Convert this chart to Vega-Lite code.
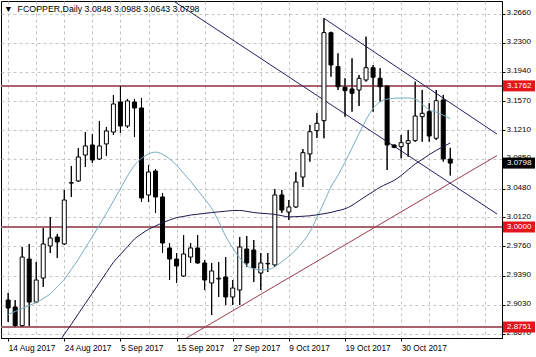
{
  "$schema": "https://vega.github.io/schema/vega-lite/v6.json",
  "width": 501,
  "height": 337,
  "autosize": {"type": "none"},
  "padding": {"left": 1, "top": 1, "right": 34, "bottom": 19},
  "background": "white",
  "config": {
    "view": {"stroke": "#000000", "strokeWidth": 1},
    "font": "Liberation Sans",
    "axis": {"labelOverlap": false, "labelFlush": false, "labelBound": false}
  },
  "title": {
    "text": "▼\u00a0\u00a0FCOPPER,Daily 3.0848 3.0988 3.0643 3.0798",
    "anchor": "start",
    "frame": "group",
    "orient": "top",
    "offset": -12,
    "baseline": "middle",
    "dx": 3,
    "dy": 5,
    "fontSize": 8.8,
    "fontWeight": "normal",
    "font": "Liberation Sans",
    "color": "#000000"
  },
  "datasets": {
    "candles": [
      {"i":0,"o":2.9088,"h":2.9176,"l":2.8814,"c":2.8989},
      {"i":1,"o":2.9001,"h":2.9088,"l":2.8751,"c":2.8770},
      {"i":2,"o":2.8768,"h":2.9750,"l":2.8755,"c":2.9625},
      {"i":3,"o":2.9600,"h":2.9788,"l":2.8762,"c":2.9063},
      {"i":4,"o":2.9063,"h":2.9563,"l":2.9051,"c":2.9338},
      {"i":5,"o":2.9363,"h":2.9988,"l":2.9251,"c":2.9788},
      {"i":6,"o":2.9763,"h":3.0125,"l":2.9675,"c":2.9863},
      {"i":7,"o":2.9875,"h":2.9913,"l":2.9613,"c":2.9813},
      {"i":8,"o":2.9788,"h":3.0462,"l":2.9775,"c":3.0337},
      {"i":9,"o":3.0548,"h":3.0762,"l":3.0375,"c":3.0553},
      {"i":10,"o":3.0575,"h":3.0987,"l":3.0562,"c":3.0874},
      {"i":11,"o":3.0899,"h":3.1186,"l":3.0749,"c":3.1012},
      {"i":12,"o":3.1024,"h":3.1161,"l":3.0799,"c":3.0837},
      {"i":13,"o":3.0849,"h":3.1324,"l":3.0837,"c":3.1012},
      {"i":14,"o":3.1037,"h":3.1249,"l":3.0887,"c":3.1199},
      {"i":15,"o":3.1186,"h":3.1648,"l":3.1149,"c":3.1536},
      {"i":16,"o":3.1561,"h":3.1762,"l":3.1174,"c":3.1261},
      {"i":17,"o":3.1261,"h":3.1599,"l":3.1236,"c":3.1574},
      {"i":18,"o":3.1561,"h":3.1599,"l":3.1124,"c":3.1486},
      {"i":19,"o":3.1486,"h":3.1611,"l":3.0312,"c":3.0362},
      {"i":20,"o":3.0400,"h":3.0774,"l":3.0312,"c":3.0687},
      {"i":21,"o":3.0699,"h":3.0724,"l":3.0175,"c":3.0375},
      {"i":22,"o":3.0375,"h":3.0425,"l":2.9675,"c":2.9800},
      {"i":23,"o":2.9738,"h":2.9800,"l":2.9338,"c":2.9600},
      {"i":24,"o":2.9600,"h":2.9675,"l":2.9301,"c":2.9513},
      {"i":25,"o":2.9388,"h":2.9900,"l":2.9376,"c":2.9663},
      {"i":26,"o":2.9625,"h":2.9800,"l":2.9551,"c":2.9738},
      {"i":27,"o":2.9738,"h":2.9900,"l":2.9540,"c":2.9551},
      {"i":28,"o":2.9551,"h":2.9588,"l":2.9213,"c":2.9338},
      {"i":29,"o":2.9301,"h":2.9551,"l":2.8901,"c":2.9451},
      {"i":30,"o":2.9351,"h":2.9563,"l":2.9126,"c":2.9360},
      {"i":31,"o":2.9376,"h":2.9625,"l":2.9026,"c":2.9126},
      {"i":32,"o":2.9126,"h":2.9338,"l":2.9026,"c":2.9238},
      {"i":33,"o":2.9213,"h":2.9875,"l":2.9026,"c":2.9750},
      {"i":34,"o":2.9725,"h":2.9888,"l":2.9501,"c":2.9551},
      {"i":35,"o":2.9713,"h":2.9838,"l":2.9313,"c":2.9488},
      {"i":36,"o":2.9426,"h":2.9675,"l":2.9213,"c":2.9551},
      {"i":37,"o":2.9545,"h":2.9675,"l":2.9438,"c":2.9540},
      {"i":38,"o":2.9526,"h":3.0475,"l":2.9501,"c":3.0400},
      {"i":39,"o":3.0400,"h":3.0462,"l":3.0175,"c":3.0212},
      {"i":40,"o":3.0187,"h":3.0337,"l":3.0088,"c":3.0250},
      {"i":41,"o":3.0250,"h":3.0687,"l":3.0237,"c":3.0562},
      {"i":42,"o":3.0624,"h":3.0974,"l":3.0500,"c":3.0928},
      {"i":43,"o":3.0912,"h":3.1274,"l":3.0816,"c":3.1190},
      {"i":44,"o":3.1203,"h":3.1424,"l":3.1112,"c":3.1295},
      {"i":45,"o":3.1328,"h":3.2606,"l":3.1108,"c":3.2427},
      {"i":46,"o":3.2426,"h":3.2439,"l":3.1877,"c":3.2023},
      {"i":47,"o":3.2002,"h":3.2169,"l":3.1711,"c":3.1752},
      {"i":48,"o":3.1745,"h":3.1857,"l":3.1378,"c":3.1702},
      {"i":49,"o":3.1723,"h":3.2107,"l":3.1440,"c":3.1670},
      {"i":50,"o":3.1711,"h":3.1898,"l":3.1511,"c":3.1857},
      {"i":51,"o":3.1836,"h":3.2377,"l":3.1815,"c":3.1989},
      {"i":52,"o":3.1989,"h":3.2023,"l":3.1440,"c":3.1870},
      {"i":53,"o":3.1857,"h":3.1982,"l":3.1565,"c":3.1752},
      {"i":54,"o":3.1760,"h":3.1770,"l":3.0712,"c":3.1024},
      {"i":55,"o":3.1024,"h":3.1030,"l":3.0985,"c":3.0995},
      {"i":56,"o":3.1003,"h":3.1149,"l":3.0858,"c":3.1053},
      {"i":57,"o":3.1045,"h":3.1211,"l":3.0878,"c":3.1078},
      {"i":58,"o":3.1078,"h":3.1815,"l":3.1065,"c":3.1386},
      {"i":59,"o":3.1378,"h":3.1711,"l":3.1065,"c":3.1420},
      {"i":60,"o":3.1440,"h":3.1545,"l":3.1065,"c":3.1136},
      {"i":61,"o":3.1108,"h":3.1711,"l":3.1086,"c":3.1577},
      {"i":62,"o":3.1586,"h":3.1649,"l":3.0816,"c":3.0850},
      {"i":63,"o":3.0848,"h":3.0988,"l":3.0643,"c":3.0798}
    ],
    "ma": [
      {"i":0,"fast":2.8907},{"i":1,"fast":2.8945},{"i":2,"fast":2.8982},{"i":3,"fast":2.9020},
      {"i":4,"fast":2.9057},{"i":5,"fast":2.9107},{"i":6,"fast":2.9166},
      {"i":7,"fast":2.9254,"slow":2.8529},{"i":8,"fast":2.9347,"slow":2.8659},
      {"i":9,"fast":2.9469,"slow":2.8786},{"i":10,"fast":2.9598,"slow":2.8916},
      {"i":11,"fast":2.9739,"slow":2.9046},{"i":12,"fast":2.9880,"slow":2.9173},
      {"i":13,"fast":3.0025,"slow":2.9303},{"i":14,"fast":3.0172,"slow":2.9431},
      {"i":15,"fast":3.0324,"slow":2.9559},{"i":16,"fast":3.0480,"slow":2.9657},
      {"i":17,"fast":3.0636,"slow":2.9753},{"i":18,"fast":3.0769,"slow":2.9850},
      {"i":19,"fast":3.0857,"slow":2.9914},{"i":20,"fast":3.0912,"slow":2.9971},
      {"i":21,"fast":3.0935,"slow":3.0012},{"i":22,"fast":3.0908,"slow":3.0054},
      {"i":23,"fast":3.0850,"slow":3.0087},{"i":24,"fast":3.0772,"slow":3.0117},
      {"i":25,"fast":3.0671,"slow":3.0132},{"i":26,"fast":3.0571,"slow":3.0149},
      {"i":27,"fast":3.0462,"slow":3.0160},{"i":28,"fast":3.0351,"slow":3.0170},
      {"i":29,"fast":3.0234,"slow":3.0180},{"i":30,"fast":3.0070,"slow":3.0189},
      {"i":31,"fast":2.9885,"slow":3.0197},{"i":32,"fast":2.9738,"slow":3.0206},
      {"i":33,"fast":2.9615,"slow":3.0207},{"i":34,"fast":2.9518,"slow":3.0195},
      {"i":35,"fast":2.9479,"slow":3.0181},{"i":36,"fast":2.9463,"slow":3.0171},
      {"i":37,"fast":2.9468,"slow":3.0166},{"i":38,"fast":2.9504,"slow":3.0157},
      {"i":39,"fast":2.9565,"slow":3.0141},{"i":40,"fast":2.9634,"slow":3.0126},
      {"i":41,"fast":2.9714,"slow":3.0129},{"i":42,"fast":2.9814,"slow":3.0134},
      {"i":43,"fast":2.9940,"slow":3.0140},{"i":44,"fast":3.0117,"slow":3.0152},
      {"i":45,"fast":3.0307,"slow":3.0166},{"i":46,"fast":3.0501,"slow":3.0182},
      {"i":47,"fast":3.0646,"slow":3.0205},{"i":48,"fast":3.0809,"slow":3.0227},
      {"i":49,"fast":3.0987,"slow":3.0270},{"i":50,"fast":3.1166,"slow":3.0328},
      {"i":51,"fast":3.1339,"slow":3.0386},{"i":52,"fast":3.1479,"slow":3.0441},
      {"i":53,"fast":3.1562,"slow":3.0497},{"i":54,"fast":3.1597,"slow":3.0540},
      {"i":55,"fast":3.1607,"slow":3.0582},{"i":56,"fast":3.1611,"slow":3.0643},
      {"i":57,"fast":3.1611,"slow":3.0716},{"i":58,"fast":3.1599,"slow":3.0787},
      {"i":59,"fast":3.1535,"slow":3.0844},{"i":60,"fast":3.1464,"slow":3.0903},
      {"i":61,"fast":3.1435,"slow":3.0957},{"i":62,"fast":3.1397,"slow":3.1004},
      {"i":63,"fast":3.1354,"slow":3.1049}
    ],
    "levels": [
      {"price":3.1762,"label":"3.1762","kind":"level"},
      {"price":3.0000,"label":"3.0000","kind":"level"},
      {"price":2.8751,"label":"2.8751","kind":"level"}
    ],
    "tags": [
      {"price":3.1762,"label":"3.1762","kind":"level"},
      {"price":3.0000,"label":"3.0000","kind":"level"},
      {"price":2.8751,"label":"2.8751","kind":"level"},
      {"price":3.0798,"label":"3.0798","kind":"last"}
    ],
    "trend": [
      {"name":"support","i":25.4,"p":2.8614},
      {"name":"support","i":69.66,"p":3.0892},
      {"name":"channel low","i":23.57,"p":3.2822},
      {"name":"channel low","i":69.66,"p":3.0162},
      {"name":"channel high","i":45,"p":3.2606},
      {"name":"channel high","i":69.66,"p":3.1160}
    ]
  },
  "layer": [
    {
      "data": {"name": "candles"},
      "mark": {"type": "rule", "color": "#000000", "strokeWidth": 1},
      "encoding": {
        "x": {
          "field": "i", "type": "quantitative", "title": null,
          "scale": {"domain": [-0.307, 69.66], "nice": false, "zero": false},
          "axis": {
            "values": [0,4,8,12,16,20,24,28,32,36,40,44,48,52,56,60,64,68],
            "tickCount": 100,
            "labelExpr": "(datum.value % 8 === 0 && datum.value <= 56) ? ['14 Aug 2017','24 Aug 2017','5 Sep 2017','15 Sep 2017','27 Sep 2017','9 Oct 2017','19 Oct 2017','30 Oct 2017'][datum.value / 8] : ''",
            "labelAlign": "left",
            "labelBaseline": "top",
            "labelPadding": 2,
            "labelFontSize": 8.3,
            "labelFont": "Liberation Sans",
            "labelColor": "#000000",
            "labelFlush": false,
            "labelOverlap": false,
            "tickSize": 3,
            "tickColor": "#000000",
            "tickOpacity": {"condition": {"test": "datum.value % 8 !== 0 || datum.value > 56", "value": 0}, "value": 1},
            "domainColor": "#000000",
            "grid": true,
            "gridColor": "#c4c4c4",
            "gridDash": [3, 3],
            "gridWidth": 1
          }
        },
        "y": {
          "field": "l", "type": "quantitative", "title": null,
          "scale": {"domain": [2.8614, 3.2822], "nice": false, "zero": false},
          "axis": {
            "orient": "right",
            "values": [2.867,2.903,2.939,2.976,3.012,3.048,3.085,3.121,3.157,3.194,3.23,3.266],
            "tickCount": 100,
            "format": ".4f",
            "labelAlign": "left",
            "labelBaseline": "middle",
            "labelPadding": 1,
            "labelOffset": -1,
            "labelFontSize": 8,
            "labelFont": "Liberation Sans",
            "labelColor": "#000000",
            "labelFlush": false,
            "labelOverlap": false,
            "labelBound": false,
            "tickSize": 3,
            "tickColor": "#000000",
            "domainColor": "#000000",
            "grid": true,
            "gridColor": "#c4c4c4",
            "gridDash": [3, 3],
            "gridWidth": 1
          }
        },
        "y2": {"field": "h"}
      }
    },
    {
      "data": {"name": "levels"},
      "mark": {"type": "rule", "color": "#a8636e", "strokeWidth": 2},
      "encoding": {
        "y": {"field": "price", "type": "quantitative", "title": null,
              "scale": {"domain": [2.8614, 3.2822], "nice": false, "zero": false}}
      }
    },
    {
      "data": {"name": "trend"},
      "mark": {"type": "line", "strokeWidth": 1, "clip": true},
      "encoding": {
        "x": {"field": "i", "type": "quantitative", "title": null,
              "scale": {"domain": [-0.307, 69.66], "nice": false, "zero": false}},
        "y": {"field": "p", "type": "quantitative", "title": null,
              "scale": {"domain": [2.8614, 3.2822], "nice": false, "zero": false}},
        "detail": {"field": "name"},
        "color": {
          "field": "name", "type": "nominal", "legend": null,
          "scale": {"domain": ["support", "channel low", "channel high"],
                    "range": ["#9a3b4b", "#202068", "#202068"]}
        }
      }
    },
    {
      "data": {"name": "candles"},
      "mark": {"type": "rule", "color": "#000000", "strokeWidth": 1},
      "encoding": {
        "x": {"field": "i", "type": "quantitative", "title": null,
              "scale": {"domain": [-0.307, 69.66], "nice": false, "zero": false}},
        "y": {"field": "l", "type": "quantitative", "title": null,
              "scale": {"domain": [2.8614, 3.2822], "nice": false, "zero": false}},
        "y2": {"field": "h"}
      }
    },
    {
      "data": {"name": "candles"},
      "mark": {"type": "bar", "width": 4, "stroke": "#000000", "strokeWidth": 1},
      "encoding": {
        "x": {"field": "i", "type": "quantitative", "title": null,
              "scale": {"domain": [-0.307, 69.66], "nice": false, "zero": false}},
        "y": {"field": "o", "type": "quantitative", "title": null,
              "scale": {"domain": [2.8614, 3.2822], "nice": false, "zero": false}},
        "y2": {"field": "c"},
        "fill": {"condition": {"test": "datum.c > datum.o", "value": "#ffffff"}, "value": "#000000"}
      }
    },
    {
      "data": {"name": "ma"},
      "mark": {"type": "line", "color": "#74aebf", "strokeWidth": 1, "interpolate": "monotone", "clip": true},
      "encoding": {
        "x": {"field": "i", "type": "quantitative", "title": null,
              "scale": {"domain": [-0.307, 69.66], "nice": false, "zero": false}},
        "y": {"field": "fast", "type": "quantitative", "title": null,
              "scale": {"domain": [2.8614, 3.2822], "nice": false, "zero": false}}
      }
    },
    {
      "data": {"name": "ma"},
      "mark": {"type": "line", "color": "#1a1a4e", "strokeWidth": 1, "interpolate": "monotone", "clip": true},
      "encoding": {
        "x": {"field": "i", "type": "quantitative", "title": null,
              "scale": {"domain": [-0.307, 69.66], "nice": false, "zero": false}},
        "y": {"field": "slow", "type": "quantitative", "title": null,
              "scale": {"domain": [2.8614, 3.2822], "nice": false, "zero": false}}
      }
    },
    {
      "data": {"name": "tags"},
      "mark": {"type": "rect", "x": {"expr": "width + 1"}, "x2": {"expr": "width + 33"}, "yOffset": -5.5, "y2Offset": 5.5},
      "encoding": {
        "y": {"field": "price", "type": "quantitative", "title": null,
              "scale": {"domain": [2.8614, 3.2822], "nice": false, "zero": false}},
        "y2": {"field": "price"},
        "fill": {"condition": {"test": "datum.kind === 'last'", "value": "#000000"}, "value": "#e3161b"}
      }
    },
    {
      "data": {"name": "tags"},
      "mark": {"type": "text", "x": {"expr": "width + 5"}, "align": "left", "baseline": "middle", "fontSize": 8, "font": "Liberation Sans", "color": "#ffffff"},
      "encoding": {
        "y": {"field": "price", "type": "quantitative", "title": null,
              "scale": {"domain": [2.8614, 3.2822], "nice": false, "zero": false}},
        "text": {"field": "label"}
      }
    }
  ]
}
